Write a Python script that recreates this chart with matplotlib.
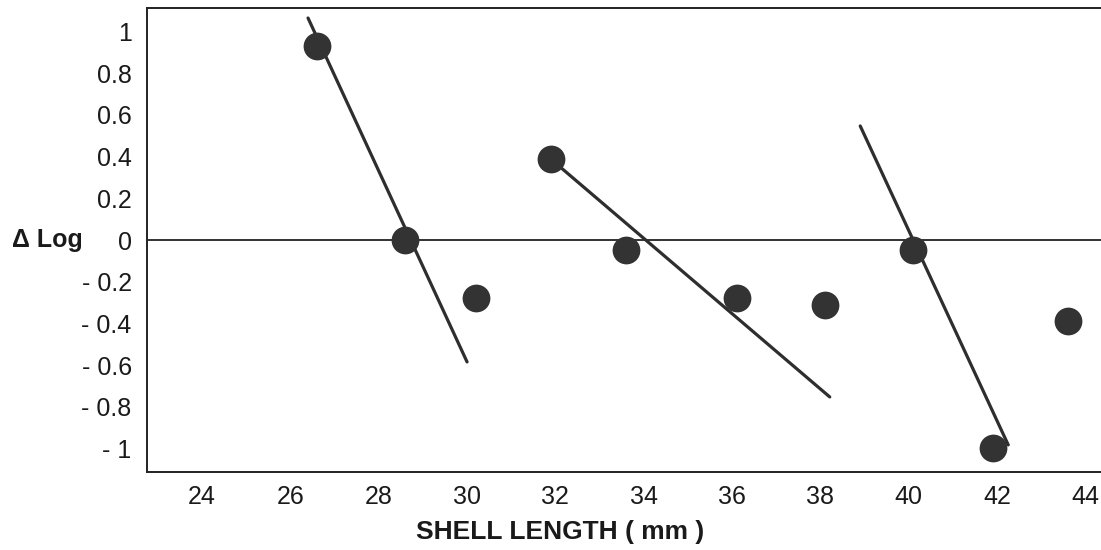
import matplotlib
matplotlib.use("Agg")
import matplotlib.pyplot as plt

# ---- data ----
shell_length = [26.6, 28.6, 30.2, 31.9, 33.6, 36.1, 38.1, 40.1, 41.9, 43.6]
delta_log = [0.93, 0.0, -0.28, 0.39, -0.05, -0.28, -0.31, -0.05, -1.0, -0.39]

# regression lines (start/end) for the three cohorts
line1_x = [26.4, 30.0]
line1_y = [1.065, -0.585]
line2_x = [31.92, 38.21]
line2_y = [0.384, -0.753]
line3_x = [38.9, 42.25]
line3_y = [0.547, -0.983]

x_ticks = [24, 26, 28, 30, 32, 34, 36, 38, 40, 42, 44]
y_ticks = [1, 0.8, 0.6, 0.4, 0.2, 0, -0.2, -0.4, -0.6, -0.8, -1]
y_tick_labels = ["1", "0.8", "0.6", "0.4", "0.2", "0",
                 "- 0.2", "- 0.4", "- 0.6", "- 0.8", "- 1"]

plt.rcParams['font.family'] = ['Liberation Sans', 'DejaVu Sans']

W, H = 1101, 550
fig = plt.figure(figsize=(W / 100, H / 100), dpi=100)
fig.patch.set_facecolor('white')
ax = fig.add_axes([147 / W, 1 - 472 / H, 1 - 147 / W, (472 - 8) / H])

ink = '#2e2e2e'
ax.plot(line1_x, line1_y, color=ink, lw=2.3, solid_capstyle='round', zorder=3)
ax.plot(line2_x, line2_y, color=ink, lw=2.3, solid_capstyle='round', zorder=3)
ax.plot(line3_x, line3_y, color=ink, lw=2.3, solid_capstyle='round', zorder=3)
ax.plot(shell_length, delta_log, 'o', color='#333333', markersize=20,
        markeredgewidth=0, linestyle='none', zorder=4)
ax.axhline(0, color='#222222', lw=1.3, zorder=2)

ax.set_xlim(22.755, 44.35)
ax.set_ylim(-1.113, 1.113)

ax.set_xticks(x_ticks)
ax.set_xticklabels([str(v) for v in x_ticks])
ax.set_yticks(y_ticks)
ax.set_yticklabels(y_tick_labels)
ax.tick_params(axis='both', length=0, labelsize=18, colors='#1a1a1a')
ax.tick_params(axis='y', pad=11)
ax.tick_params(axis='x', pad=9)

for s in ['left', 'top', 'bottom']:
    ax.spines[s].set_linewidth(1.4)
    ax.spines[s].set_color('#222222')
ax.spines['right'].set_visible(False)

fig.text(12 / W, 1 - 240 / H, "Δ Log", ha='left', va='center',
         fontsize=18, fontweight='bold', color='#1a1a1a')
fig.text(560 / W, 1 - 532 / H, "SHELL LENGTH ( mm )", ha='center',
         va='center', fontsize=19, fontweight='bold', color='#1a1a1a')

fig.savefig("out.png", dpi=100, facecolor='white')
